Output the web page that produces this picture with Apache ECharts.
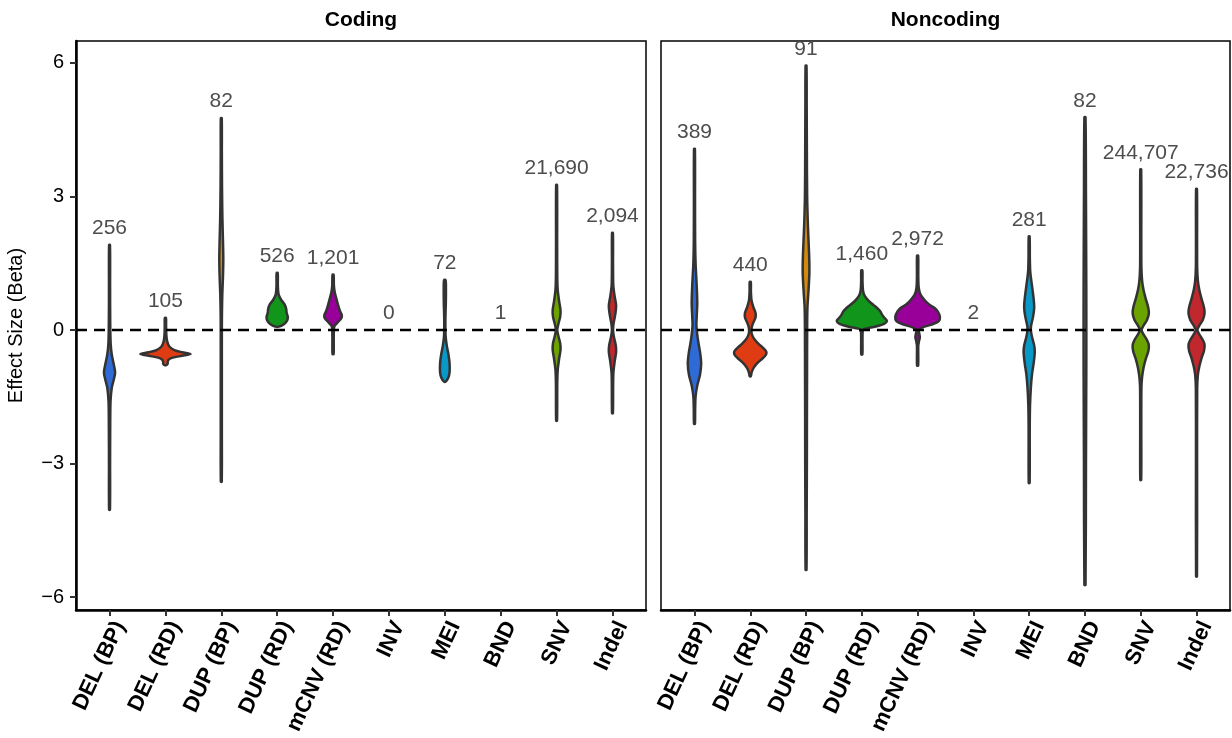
<!DOCTYPE html>
<html>
<head>
<meta charset="utf-8">
<script src="https://cdn.jsdelivr.net/npm/echarts@6/dist/echarts.min.js"></script>
<style>html,body{margin:0;padding:0;background:#fff}#c{width:1232px;height:738px}</style>
</head>
<body>
<div id="c"></div>
<script>
// ---------- data ----------
const categories = ['DEL (BP)','DEL (RD)','DUP (BP)','DUP (RD)','mCNV (RD)','INV','MEI','BND','SNV','Indel'];
const panels = ['Coding','Noncoding'];
const codingCounts = [256,105,82,526,1201,0,72,1,21690,2094];
const noncodingCounts = [389,440,91,1460,2972,2,281,82,244707,22736];
const yTicks = [-6,-3,0,3,6];
const fillColors = ['#2E6BD6','#E03C14','#D38A0C','#11961B','#990099','#E377C2','#0A98C8','#8C8C8C','#6BA300','#C0282D'];

// violin profiles: [effect size, half width (fraction of category spacing)], top to bottom
const cod_DEL_BP = [[1.91,0.008],[1.0,0.01],[0.2,0.012],[-0.3,0.02],[-0.55,0.04],[-0.8,0.08],[-0.96,0.1],[-1.12,0.075],[-1.3,0.04],[-1.6,0.018],[-2.2,0.012],[-3.0,0.01],[-4.04,0.008]];
const cod_DEL_RD = [[0.27,0.01],[0.1,0.012],[-0.1,0.016],[-0.25,0.03],[-0.37,0.07],[-0.45,0.16],[-0.5,0.3],[-0.54,0.45],[-0.58,0.3],[-0.62,0.13],[-0.67,0.055],[-0.72,0.04],[-0.76,0.04],[-0.79,0.015]];
const cod_DUP_BP = [[4.76,0.008],[4.0,0.01],[3.2,0.013],[2.5,0.02],[2.0,0.03],[1.6,0.036],[1.2,0.03],[0.8,0.018],[0.4,0.012],[0.0,0.01],[-1.0,0.01],[-2.2,0.01],[-3.41,0.008]];
const cod_DUP_RD = [[1.28,0.01],[1.0,0.012],[0.8,0.025],[0.68,0.07],[0.58,0.13],[0.48,0.16],[0.38,0.17],[0.3,0.19],[0.22,0.18],[0.15,0.14],[0.1,0.08],[0.07,0.01]];
const cod_mCNV_RD = [[1.24,0.01],[1.0,0.015],[0.85,0.03],[0.7,0.06],[0.56,0.09],[0.44,0.12],[0.34,0.155],[0.27,0.15],[0.18,0.09],[0.1,0.03],[0.02,0.015],[-0.3,0.012],[-0.54,0.01]];
const cod_INV = [];
const cod_MEI = [[1.12,0.014],[0.9,0.02],[0.6,0.018],[0.35,0.012],[0.1,0.01],[-0.15,0.015],[-0.35,0.035],[-0.55,0.065],[-0.75,0.085],[-0.95,0.085],[-1.08,0.06],[-1.16,0.015]];
const cod_BND = [];
const cod_SNV = [[3.26,0.008],[2.0,0.01],[1.2,0.012],[0.9,0.02],[0.65,0.045],[0.45,0.07],[0.3,0.065],[0.15,0.035],[0.0,0.012],[-0.15,0.035],[-0.3,0.065],[-0.45,0.07],[-0.65,0.045],[-0.9,0.02],[-1.2,0.012],[-2.04,0.008]];
const cod_Indel = [[2.18,0.008],[1.5,0.01],[1.0,0.015],[0.75,0.04],[0.55,0.065],[0.35,0.05],[0.15,0.02],[0.0,0.01],[-0.15,0.025],[-0.35,0.06],[-0.5,0.065],[-0.7,0.04],[-1.0,0.015],[-1.87,0.008]];

const nc_DEL_BP = [[4.07,0.008],[3.0,0.01],[2.0,0.012],[1.5,0.02],[1.0,0.04],[0.6,0.05],[0.3,0.04],[0.1,0.035],[-0.2,0.06],[-0.5,0.1],[-0.75,0.12],[-1.0,0.1],[-1.25,0.05],[-1.5,0.02],[-1.8,0.012],[-2.11,0.008]];
const nc_DEL_RD = [[1.08,0.01],[0.85,0.012],[0.65,0.025],[0.5,0.06],[0.38,0.095],[0.28,0.095],[0.15,0.05],[0.05,0.025],[-0.08,0.025],[-0.2,0.07],[-0.3,0.14],[-0.4,0.23],[-0.47,0.28],[-0.51,0.29],[-0.56,0.28],[-0.64,0.22],[-0.74,0.13],[-0.85,0.06],[-0.95,0.025],[-1.04,0.01]];
const nc_DUP_BP = [[5.94,0.008],[5.0,0.012],[4.0,0.015],[3.0,0.02],[2.3,0.035],[1.7,0.055],[1.3,0.06],[0.9,0.045],[0.5,0.025],[0.0,0.02],[-1.0,0.018],[-2.0,0.016],[-3.0,0.015],[-4.0,0.012],[-5.39,0.008]];
const nc_DUP_RD = [[1.34,0.01],[1.1,0.012],[0.9,0.02],[0.8,0.04],[0.7,0.09],[0.6,0.17],[0.5,0.27],[0.42,0.33],[0.35,0.36],[0.28,0.4],[0.2,0.45],[0.14,0.4],[0.08,0.25],[0.03,0.06],[0.0,0.02],[-0.2,0.012],[-0.55,0.01]];
const nc_mCNV_RD = [[1.67,0.01],[1.2,0.012],[0.95,0.02],[0.8,0.05],[0.68,0.12],[0.58,0.2],[0.5,0.3],[0.42,0.36],[0.3,0.4],[0.2,0.38],[0.12,0.25],[0.06,0.09],[0.0,0.02],[-0.08,0.03],[-0.16,0.04],[-0.25,0.025],[-0.35,0.012],[-0.8,0.01]];
const nc_INV = [];
const nc_MEI = [[2.1,0.008],[1.6,0.012],[1.3,0.02],[1.0,0.05],[0.7,0.08],[0.5,0.09],[0.3,0.07],[0.1,0.035],[0.0,0.03],[-0.15,0.05],[-0.35,0.09],[-0.5,0.1],[-0.75,0.08],[-1.0,0.05],[-1.3,0.03],[-1.7,0.015],[-2.2,0.01],[-3.44,0.008]];
const nc_BND = [[4.78,0.01],[3.0,0.018],[1.0,0.024],[0.0,0.025],[-1.0,0.024],[-3.0,0.018],[-5.73,0.01]];
const nc_SNV = [[3.61,0.008],[2.0,0.01],[1.4,0.012],[1.1,0.025],[0.9,0.05],[0.7,0.09],[0.5,0.135],[0.37,0.145],[0.22,0.11],[0.1,0.05],[0.0,0.015],[-0.1,0.05],[-0.22,0.11],[-0.34,0.145],[-0.48,0.135],[-0.65,0.09],[-0.85,0.05],[-1.05,0.025],[-1.3,0.012],[-2.2,0.01],[-3.37,0.008]];
const nc_Indel = [[3.17,0.008],[2.0,0.01],[1.4,0.012],[1.1,0.025],[0.9,0.05],[0.7,0.09],[0.5,0.135],[0.37,0.143],[0.22,0.11],[0.1,0.05],[0.0,0.015],[-0.1,0.05],[-0.22,0.11],[-0.32,0.143],[-0.46,0.135],[-0.63,0.09],[-0.82,0.05],[-1.0,0.025],[-1.3,0.012],[-3.0,0.01],[-5.54,0.008]];

const codingProfiles = [cod_DEL_BP,cod_DEL_RD,cod_DUP_BP,cod_DUP_RD,cod_mCNV_RD,cod_INV,cod_MEI,cod_BND,cod_SNV,cod_Indel];
const noncodingProfiles = [nc_DEL_BP,nc_DEL_RD,nc_DUP_BP,nc_DUP_RD,nc_mCNV_RD,nc_INV,nc_MEI,nc_BND,nc_SNV,nc_Indel];

// ---------- layout ----------
const FONT = '"Liberation Sans", Arial, Helvetica, sans-serif';
const Y_MIN = -6.292, Y_MAX = 6.494;
const TOP = 41, H = 569;
const boxes = [{left:76, width:570}, {left:661, width:569}];

function fmtNum(v){ return String(v).replace('-', '\u2212'); }

function violinRenderer(profiles, counts){
  return function(params, api){
    const i = api.value(0);
    const prof = profiles[i];
    const band = api.size([1, 0])[0];
    const cx = api.coord([i, 0])[0];
    const children = [];
    let topY;
    if (prof && prof.length){
      const right = [], left = [];
      for (const [y, w] of prof){
        const p = api.coord([i, y]);
        right.push([p[0] + w*band, p[1]]);
        left.push([p[0] - w*band, p[1]]);
      }
      const pts = right.concat(left.reverse());
      children.push({type:'polygon', shape:{points:pts, smooth:0.3},
        style:{fill:fillColors[i], stroke:'#333333', lineWidth:2.5, lineJoin:'round'}});
      topY = api.coord([i, prof[0][0]])[1];
    } else {
      topY = api.coord([i, 0])[1];
    }
    children.push({type:'text', x:cx, y:topY - 6,
      style:{text:counts[i].toLocaleString('en-US'), fill:'#4d4d4d', font:'21px ' + FONT, align:'center', verticalAlign:'bottom'}});
    return {type:'group', children};
  };
}

function zeroLineRenderer(params, api){
  const cs = params.coordSys;
  const y = api.coord([0, 0])[1];
  return {type:'line', shape:{x1:cs.x, y1:y, x2:cs.x + cs.width, y2:y},
    style:{stroke:'#000', lineWidth:2.5, lineDash:[11,7]}};
}

const grid = [], xAxis = [], yAxis = [], series = [], title = [];
boxes.forEach((b, p) => {
  const unit = b.width / 10.2;
  const outer = grid.length;
  grid.push({left:b.left, top:TOP, width:b.width, height:H, show:true, borderColor:'#000', borderWidth:1.5, backgroundColor:'transparent'});
  grid.push({left:b.left + 0.1*unit, top:TOP, width:b.width - 0.2*unit, height:H});
  // outer axes
  xAxis.push({gridIndex:outer, type:'value', min:0, max:1,
    axisLine:{show:true, onZero:false, lineStyle:{color:'#000', width:2.5}},
    axisTick:{show:false}, axisLabel:{show:false}, splitLine:{show:false}});
  yAxis.push({gridIndex:outer, type:'value', min:Y_MIN, max:Y_MAX,
    name: p === 0 ? 'Effect Size (Beta)' : '', nameLocation:'middle', nameGap:50,
    nameTextStyle:{fontFamily:FONT, fontSize:20, color:'#000'},
    axisLine:{show:p === 0, onZero:false, lineStyle:{color:'#000', width:2.5}},
    axisTick:{show:p === 0, length:6, customValues:yTicks, lineStyle:{color:'#333', width:2}},
    axisLabel:{show:p === 0, customValues:yTicks, margin:12, fontFamily:FONT, fontSize:20, color:'#000', formatter:fmtNum},
    splitLine:{show:false}});
  // inner axes (categories)
  xAxis.push({gridIndex:outer+1, type:'category', data:categories, boundaryGap:true,
    axisLine:{show:false, onZero:false},
    axisTick:{show:true, alignWithLabel:true, length:6, lineStyle:{color:'#333', width:2}},
    axisLabel:{rotate:65, margin:8, fontFamily:FONT, fontSize:22, fontWeight:'bold', color:'#000', interval:0,
      align:'right', verticalAlign:'top'},
    splitLine:{show:false}});
  yAxis.push({gridIndex:outer+1, type:'value', min:Y_MIN, max:Y_MAX, show:false, splitLine:{show:false}});
  const profiles = p === 0 ? codingProfiles : noncodingProfiles;
  const counts = p === 0 ? codingCounts : noncodingCounts;
  series.push({type:'custom', xAxisIndex:outer+1, yAxisIndex:outer+1, silent:true, z:2,
    data:categories.map((c, i) => [i, 0]), renderItem:violinRenderer(profiles, counts)});
  series.push({type:'custom', xAxisIndex:outer, yAxisIndex:outer, silent:true, z:5,
    data:[[0, 0]], renderItem:zeroLineRenderer});
  title.push({text:panels[p], left:b.left + b.width/2, top:10, textAlign:'center', padding:0,
    textStyle:{fontFamily:FONT, fontSize:21, fontWeight:'bold', color:'#000'}});
});

const chart = echarts.init(document.getElementById('c'), null, {renderer:'canvas'});
chart.setOption({animation:false, backgroundColor:'#fff', title, grid, xAxis, yAxis, series});
</script>
</body>
</html>
